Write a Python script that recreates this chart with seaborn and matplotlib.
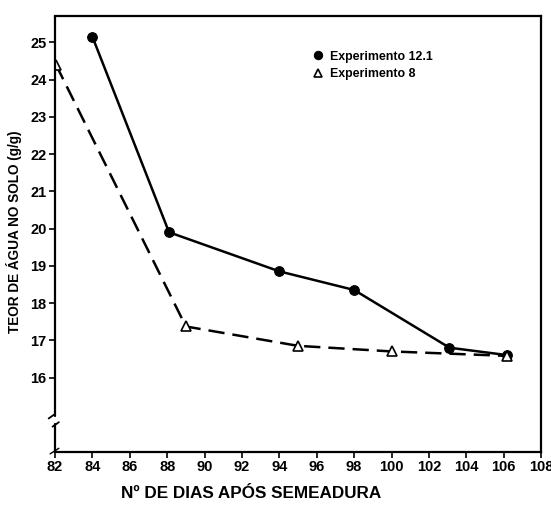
import matplotlib
matplotlib.use("Agg")
import matplotlib.pyplot as plt
import numpy as np
import pandas as pd
import seaborn as sns

# Data
dias_exp121 = [84.0, 88.1, 94.0, 98.0, 103.1, 106.2]
teor_exp121 = [25.15, 19.9, 18.85, 18.35, 16.8, 16.6]
dias_exp8 = [82.05, 89.0, 95.0, 100.0, 106.2]
teor_exp8 = [24.4, 17.37, 16.85, 16.7, 16.58]

x_ticks = list(range(82, 109, 2))
y_ticks = list(range(16, 26))

sns.set_style("white")
plt.rcParams['font.family'] = ['Liberation Sans', 'DejaVu Sans']
plt.rcParams['font.weight'] = 'bold'
plt.rcParams['text.color'] = 'black'
plt.rcParams['axes.labelcolor'] = 'black'

fig = plt.figure(figsize=(5.51, 5.07), dpi=100)
ax = fig.add_axes([0.0998, 0.1085, 0.8822, 0.8595])

df1 = pd.DataFrame({'dias': dias_exp121, 'teor': teor_exp121})
df2 = pd.DataFrame({'dias': dias_exp8, 'teor': teor_exp8})

sns.lineplot(ax=ax, data=df1, x='dias', y='teor', color='black', lw=1.8,
             marker='o', markersize=7, markeredgecolor='black',
             label='Experimento 12.1', sort=False)
sns.lineplot(ax=ax, data=df2, x='dias', y='teor', color='black', lw=1.8,
             linestyle=(0, (6.5, 3.2)), marker='^', markersize=7,
             markerfacecolor='white', markeredgecolor='black',
             markeredgewidth=1.2, label='Experimento 8', sort=False)

ax.set_xlim(82, 108)
ax.set_ylim(14, 25.7)
ax.set_xticks(x_ticks)
ax.set_yticks(y_ticks)
ax.tick_params(axis='both', direction='out', length=4, width=1.2,
               labelsize=10.5, colors='black', pad=2)
ax.tick_params(axis='both', bottom=True, left=True)
for lab in ax.get_xticklabels() + ax.get_yticklabels():
    lab.set_fontweight('bold')

for s in ax.spines.values():
    s.set_color('black')
    s.set_linewidth(1.6)

# axis break on the y axis
ax.spines['left'].set_visible(False)
tr = ax.get_yaxis_transform()
ax.plot([0, 0], [14.97, 25.7], transform=tr, color='black', lw=1.6, clip_on=False)
ax.plot([0, 0], [14, 14.76], transform=tr, color='black', lw=1.6, clip_on=False)
ax.plot([-0.013, 0.0], [14.9, 15.02], transform=tr, color='black', lw=1.3, clip_on=False)
ax.plot([-0.005, 0.008], [14.68, 14.8], transform=tr, color='black', lw=1.3, clip_on=False)
ax.plot([-0.01, 0.008], [13.95, 14.1], transform=tr, color='black', lw=1.0, clip_on=False)

ax.set_xlabel('')
ax.set_ylabel('')
fig.text(0.026, 0.543, 'TEOR DE ÁGUA NO SOLO (g/g)', rotation=90,
         ha='center', va='center', fontsize=9.8, fontweight='bold', color='black')
fig.text(0.455, 0.027, 'Nº DE DIAS APÓS SEMEADURA', ha='center',
         va='center', fontsize=12.3, fontweight='bold', color='black')

leg = ax.legend(loc='upper left', bbox_to_anchor=(0.53, 0.932), frameon=False,
                fontsize=8.9, handlelength=0, handletextpad=1.0,
                labelspacing=0.45, borderaxespad=0)
for h in leg.legend_handles:
    h.set_linestyle('none')
    h.set_markersize(6)
for t in leg.get_texts():
    t.set_fontweight('bold')
    t.set_color('black')

fig.savefig('out.png', dpi=100)
